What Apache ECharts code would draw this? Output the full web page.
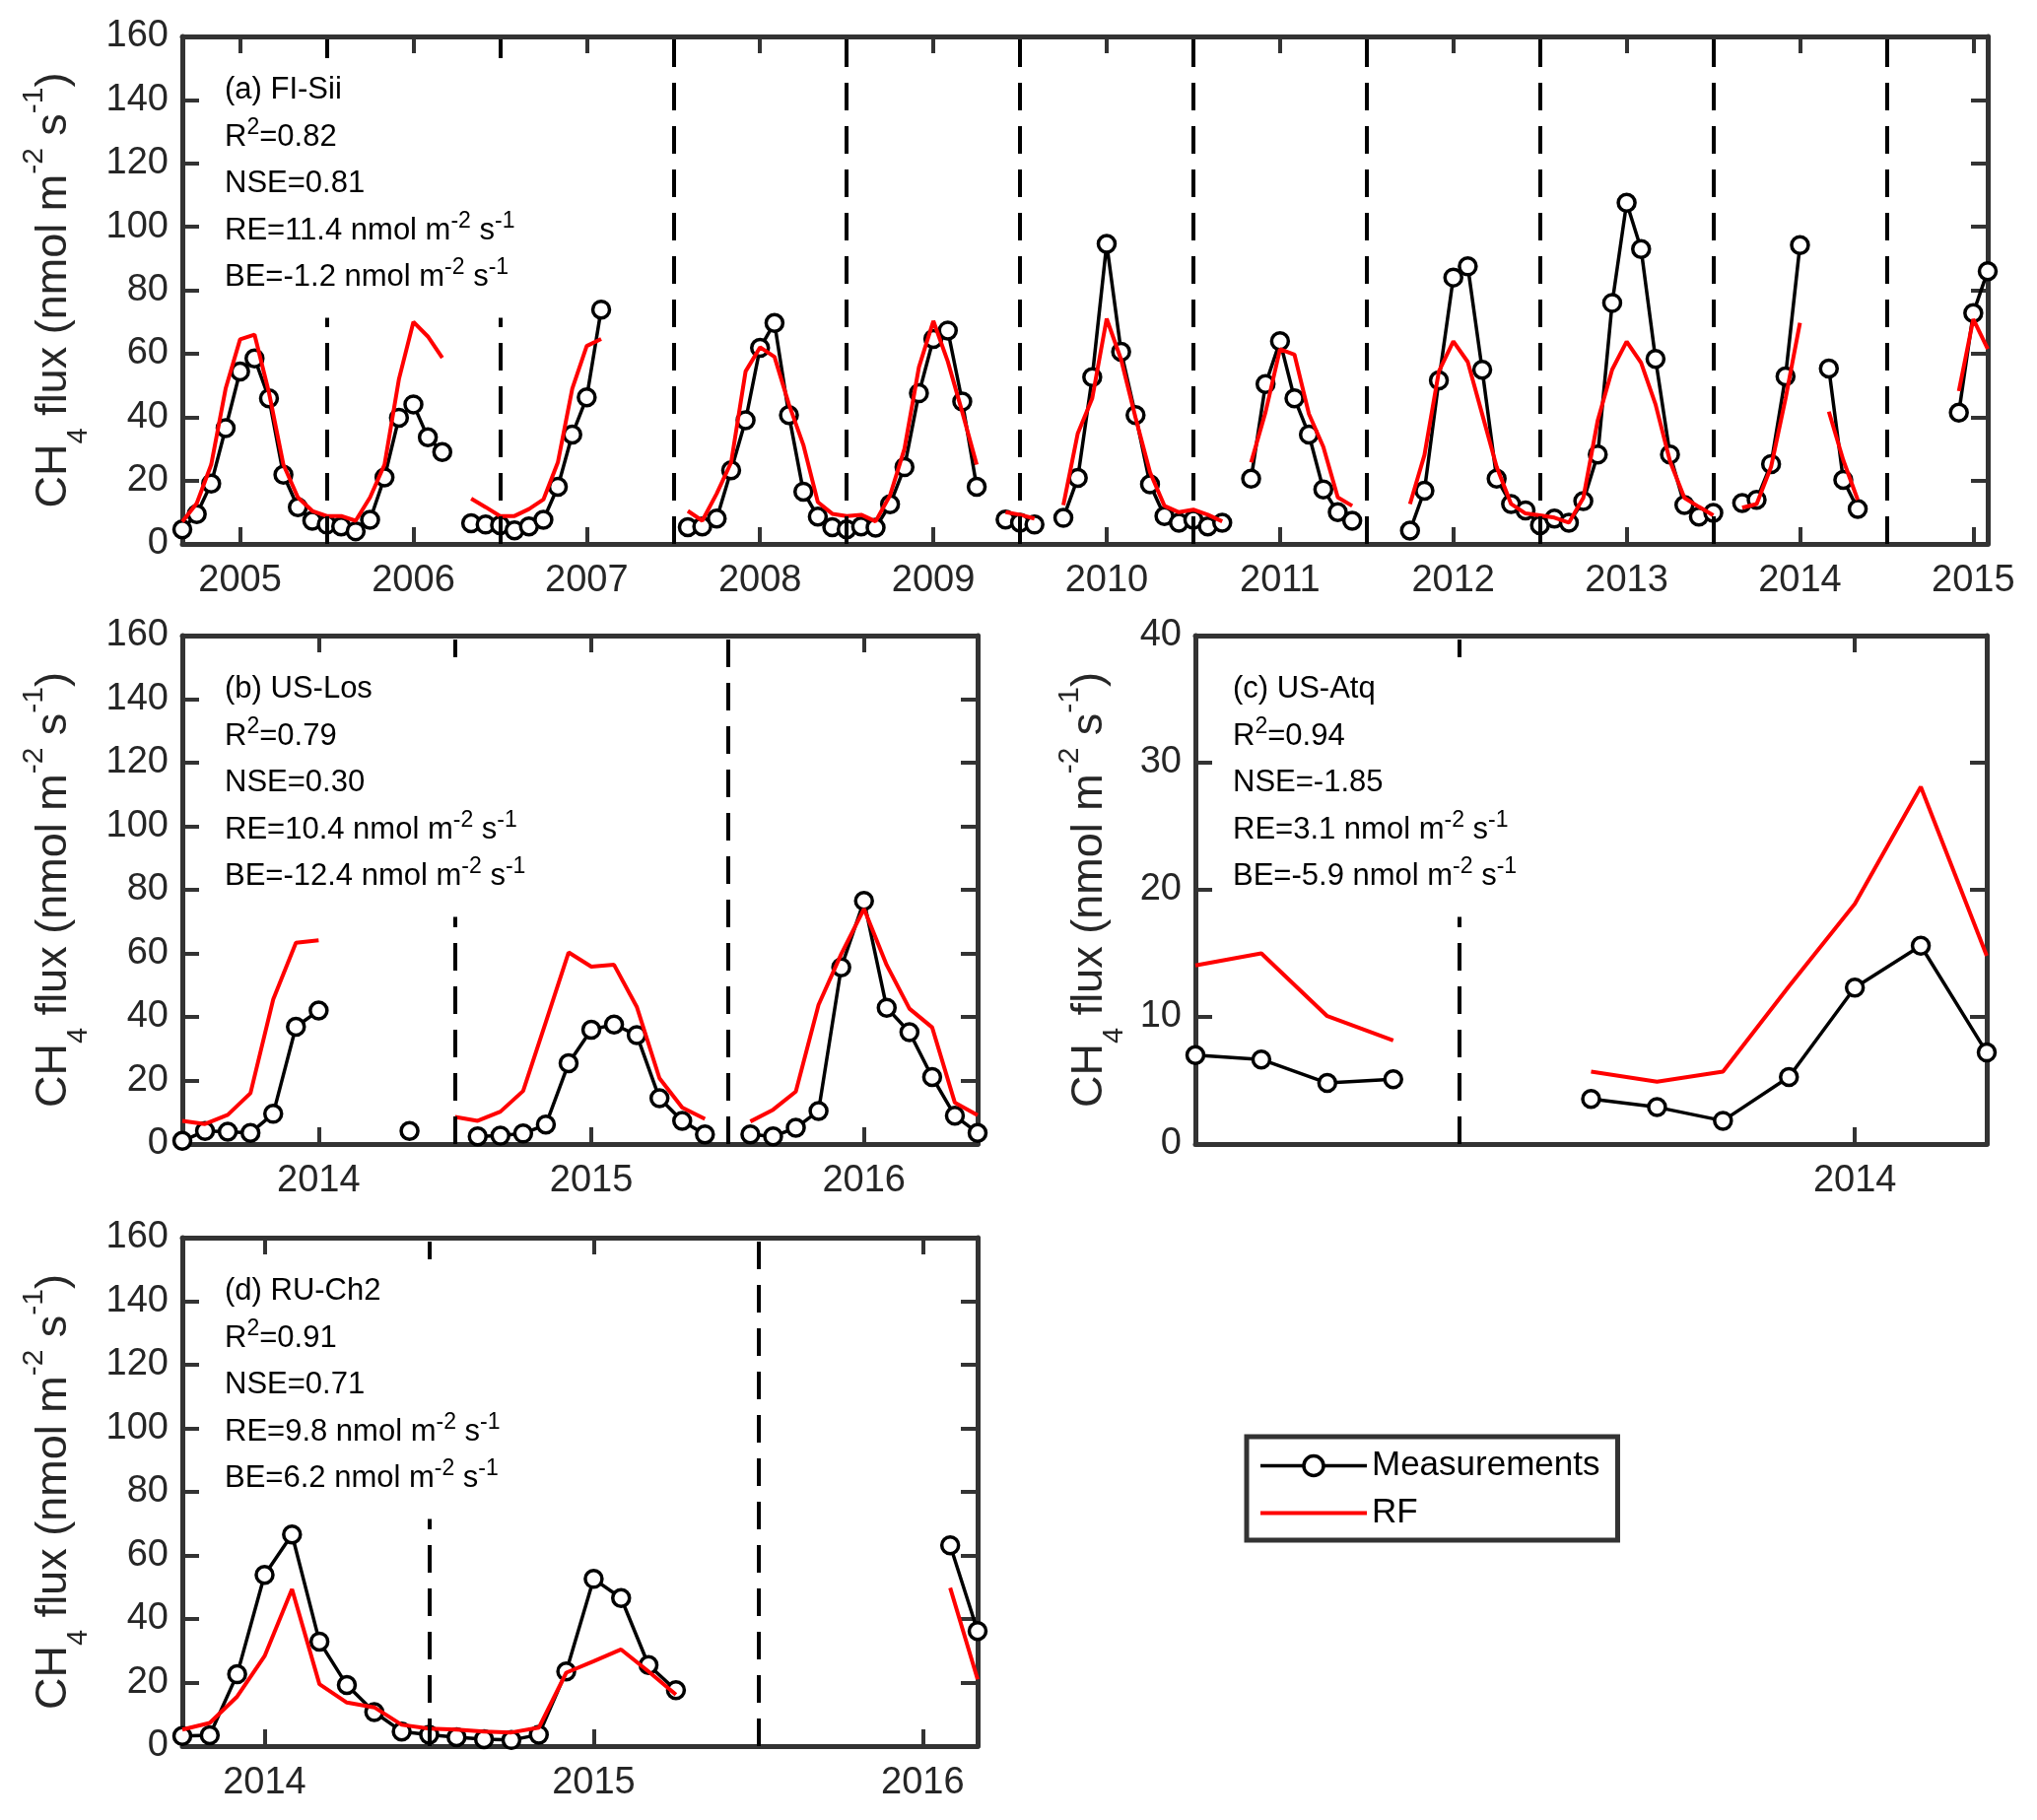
<!DOCTYPE html>
<html>
<head>
<meta charset="utf-8">
<script src="https://cdn.jsdelivr.net/npm/echarts@6/dist/echarts.min.js"></script>
<style>html,body{margin:0;padding:0;background:#fff}#c{width:2067px;height:1847px}</style>
</head>
<body>
<div id="c"></div>
<script>
// ---------------- DATA (monthly values, null = no data) ----------------
// (a) FI-Sii, first month 2004-09
const startA = [2004, 9];
const measA = [
  4.6, 9.4, 19, 36.5,                                              // 2004 Sep-Dec
  54.4, 58.5, 45.9, 21.8, 11.6, 7.3, 6.1, 5.5, 4.0, 7.6, 21, 39.8, // 2005
  44, 33.6, 29, null, 6.5, 6.1, 5.9, 4.3, 5.5, 7.6, 18, 34.5,      // 2006
  46.2, 73.9, null, null, null, null, null, 5.3, 5.5, 8, 23.2, 39, // 2007
  61.8, 69.7, 40.6, 16.5, 8.6, 5.3, 4.6, 5.5, 5.1, 12.5, 24.2, 47.5, // 2008
  64.6, 67.3, 44.9, 18, null, 7.7, 6.7, 6.1, null, 8.2, 20.8, 52.6, // 2009
  94.6, 60.6, 40.6, 18.8, 8.8, 6.7, 7.6, 5.5, 6.7, null, 20.6, 50.4, // 2010
  63.9, 45.9, 34.5, 17.2, 10, 7.3, null, null, null, 4.2, 16.8, 51.6, // 2011
  84, 87.5, 54.9, 20.6, 12.6, 10.6, 5.9, 8, 6.7, 13.5, 28.2, 76,   // 2012
  107.6, 93, 58.3, 28.2, 12.3, 8.6, 9.8, null, 12.9, 13.9, 25.2, 52.8, // 2013
  94.2, null, 55.3, 20.2, 11, null, null, null, null, null, null, 41.4, // 2014
  72.8, 86                                                         // 2015 Jan-Feb
];
const rfA = [
  7, 12.8, 25, 49,
  64.5, 66, 47.7, 25, 14.7, 10.4, 8.8, 8.8, 7.3, 14.7, 25, 52,
  70, 65.4, 58.7, null, 14.3, 11.6, 8.8, 8.8, 11, 14, 25.7, 49,
  62.4, 64.6, null, null, null, null, null, 10.4, 7.3, 15.9, 25.7, 54.4,
  62, 59, 44, 31.2, 13.2, 9.5, 8.8, 9.2, 7.1, 15.3, 30, 55.7,
  70.3, 57.5, 41.6, 25, null, 10, 9.2, 8, null, 12.2, 34.9, 45.9,
  71, 58.1, 39.8, 22.6, 12, 10, 10.8, 9.2, 7.1, null, 25.7, 41.6,
  61.4, 59.7, 41, 30.6, 14.7, 12, null, null, null, 12.6, 28, 54.4,
  63.9, 57.4, 40.9, 24.3, 12.6, 9.6, 9, 8.3, 6.7, 14.5, 39, 55,
  63.8, 57.1, 44, 26.1, 14.5, 11.7, 9, null, 11.4, 12.6, 24.3, 45.8,
  69.7, null, 41.7, 26.4, 13.9, null, null, null, null, null, null, 48.2,
  70.9, 61.5
];
const yearsA = [2005, 2006, 2007, 2008, 2009, 2010, 2011, 2012, 2013, 2014, 2015];
const dashA = [2005.5, 2006.5, 2007.5, 2008.5, 2009.5, 2010.5, 2011.5, 2012.5, 2013.5, 2014.5];

// (b) US-Los, first month 2013-07
const startB = [2013, 7];
const measB = [
  1.0, 4.1, 3.9, 3.5, 9.5, 36.9,                                   // 2013 Jul-Dec
  42, null, null, null, 4.1, null, null, 2.4, 2.6, 3.3, 6.1, 25.4, // 2014
  36, 37.6, 34.3, 14.4, 7.3, 3.0, null, 3, 2.4, 5.1, 10.4, 55.6,   // 2015
  76.5, 42.9, 35.2, 21.1, 8.9, 3.5                                 // 2016 Jan-Jun
];
const rfB = [
  7.3, 6.3, 9.2, 16, 45.5, 63.3,
  64.1, null, null, null, null, null, 8.5, 7.3, 10.2, 16.7, 38.4, 60.3,
  55.8, 56.4, 43.2, 20.7, 11.5, 7.9, null, 7.1, 10.8, 16.5, 43.8, 59.8,
  74, 56.3, 42.6, 36.7, 13, 9.1
];
const yearsB = [2014, 2015, 2016];
const dashB = [2014.5, 2015.5];

// (c) US-Atq, first month 2013-03
const startC = [2013, 3];
const measC = [7.0, 6.65, 4.8, 5.1, null, null, 3.55, 2.9, 1.83, 5.27, 12.3, 15.6, 7.2];
const rfC   = [14.05, 15.0, 10.06, 8.14, null, null, 5.7, 4.9, 5.7, 12.4, 18.9, 28.1, 14.8];
const yearsC = [2014];
const dashC = [2013.5];

// (d) RU-Ch2, first month 2013-10
const startD = [2013, 10];
const measD = [
  3.2, 3.4, 22.6,                                                  // 2013 Oct-Dec
  53.9, 66.6, 32.9, 19.2, 10.7, 4.6, 3.6, 2.8, 2.2, 1.9, 3.6, 23.5, // 2014
  52.6, 46.6, 25.5, 17.6, null, null, null, null, null, null, null, null, // 2015
  null, 63.2, 36.2                                                 // 2016 Jan-Mar
];
const rfD = [
  5.2, 7.3, 15.6,
  28.3, 49.4, 19.5, 13.7, 12.2, 6.7, 5.5, 5.2, 4.6, 4.3, 5.8, 23.1,
  26.7, 30.4, 23.5, 16.2, null, null, null, null, null, null, null, null,
  null, 49.8, 21
];
const yearsD = [2014, 2015, 2016];
const dashD = [2014.5, 2015.5];

const yTicksFlux = [0, 20, 40, 60, 80, 100, 120, 140, 160];
const yTicksAtq = [0, 10, 20, 30, 40];

const notesA = ['(a) FI-Sii', 'R{sup|2}=0.82', 'NSE=0.81', 'RE=11.4 nmol m{sup|-2} s{sup|-1}', 'BE=-1.2 nmol m{sup|-2} s{sup|-1}'];
const notesB = ['(b) US-Los', 'R{sup|2}=0.79', 'NSE=0.30', 'RE=10.4 nmol m{sup|-2} s{sup|-1}', 'BE=-12.4 nmol m{sup|-2} s{sup|-1}'];
const notesC = ['(c) US-Atq', 'R{sup|2}=0.94', 'NSE=-1.85', 'RE=3.1 nmol m{sup|-2} s{sup|-1}', 'BE=-5.9 nmol m{sup|-2} s{sup|-1}'];
const notesD = ['(d) RU-Ch2', 'R{sup|2}=0.91', 'NSE=0.71', 'RE=9.8 nmol m{sup|-2} s{sup|-1}', 'BE=6.2 nmol m{sup|-2} s{sup|-1}'];

// ---------------- CHART ----------------
const FONT = "'Liberation Sans', Arial, sans-serif";
const AX = '#333333';
const LBL = '#262626';

const grids = [
  {left: 185, top: 37, width: 1832, height: 515},
  {left: 185, top: 645, width: 807, height: 516},
  {left: 1213, top: 645, width: 803, height: 516},
  {left: 185, top: 1256, width: 807, height: 516}
];

function toXY(start, vals) {
  return vals.map((v, i) => [start[0] + (start[1] - 1 + i) / 12, v == null ? '-' : v]);
}
function firstX(start) { return start[0] + (start[1] - 1) / 12; }
function lastX(start, vals) { return start[0] + (start[1] - 1 + vals.length - 1) / 12; }

function xAx(gi, min, max, years, pos) {
  return {
    type: 'value', gridIndex: gi, min: min, max: max, position: pos,
    axisLine: {show: true, onZero: false, lineStyle: {color: AX, width: 5}},
    axisTick: {show: true, inside: true, length: 17, lineStyle: {color: AX, width: 4}, customValues: years},
    axisLabel: {show: pos === 'bottom', customValues: years, fontSize: 38, fontFamily: FONT, color: LBL, margin: 19,
                formatter: v => String(Math.round(v))},
    splitLine: {show: false}
  };
}
const nameRich = {
  t: {fontSize: 45, fontFamily: FONT, color: LBL, lineHeight: 54},
  sub: {fontSize: 29, fontFamily: FONT, color: LBL, lineHeight: 54, padding: [50, 0, 0, 0]},
  sup: {fontSize: 30, fontFamily: FONT, color: LBL, lineHeight: 54, padding: [0, 0, 40, 0]}
};
const yName = '{t|CH}{sub|4}{t| flux (nmol m}{sup|-2}{t| s}{sup|-1}{t|)}';
function yAx(gi, ticks, pos, gap) {
  const o = {
    type: 'value', gridIndex: gi, min: ticks[0], max: ticks[ticks.length - 1],
    interval: ticks[1] - ticks[0], position: pos,
    axisLine: {show: true, onZero: false, lineStyle: {color: AX, width: 5}},
    axisTick: {show: true, inside: true, length: 17, lineStyle: {color: AX, width: 4}},
    axisLabel: {show: pos === 'left', fontSize: 38, fontFamily: FONT, color: LBL, margin: 14},
    splitLine: {show: false}
  };
  if (pos === 'left') {
    o.name = yName;
    o.nameLocation = 'middle';
    o.nameRotate = 90;
    o.nameGap = gap;
    o.nameTextStyle = {fontSize: 45, fontFamily: FONT, color: LBL, lineHeight: 54, rich: nameRich};
  }
  return o;
}

function panelSeries(gi, start, meas, rf, dashes) {
  return [{
    type: 'line', name: 'Measurements', xAxisIndex: gi, yAxisIndex: gi,
    data: toXY(start, meas), connectNulls: false, clip: false,
    symbol: 'circle', symbolSize: 17, showSymbol: true,
    lineStyle: {color: '#000', width: 3.5},
    itemStyle: {color: '#fff', borderColor: '#000', borderWidth: 3.5},
    emphasis: {disabled: true}, z: 2, animation: false,
    markLine: {
      silent: true, symbol: ['none', 'none'], label: {show: false},
      lineStyle: {color: '#000', width: 4, type: [28, 16]},
      emphasis: {disabled: true}, animation: false,
      data: dashes.map(v => ({xAxis: v}))
    }
  }, {
    type: 'line', name: 'RF', xAxisIndex: gi, yAxisIndex: gi,
    data: toXY(start, rf), connectNulls: false, clip: false,
    symbol: 'none', showSymbol: false,
    lineStyle: {color: '#ff0000', width: 4},
    itemStyle: {color: '#ff0000'},
    emphasis: {disabled: true}, z: 3, animation: false
  }];
}

function note(gi, dx, lines) {
  const g = grids[gi];
  return {
    type: 'text', x: g.left + dx, y: g.top + 22, z: 100, silent: true,
    style: {
      text: lines.join('\n'), fontSize: 31, fontFamily: FONT, fill: '#000',
      lineHeight: 47.5, backgroundColor: '#fff', padding: [9, 12, 17, 12],
      align: 'left', verticalAlign: 'top',
      rich: {sup: {fontSize: 23, fontFamily: FONT, fill: '#000', lineHeight: 47.5, padding: [0, 0, 20, 0]}}
    }
  };
}

const panels = [
  [startA, measA, rfA, yearsA, dashA, yTicksFlux, 103, 31],
  [startB, measB, rfB, yearsB, dashB, yTicksFlux, 103, 31],
  [startC, measC, rfC, yearsC, dashC, yTicksAtq, 80, 26],
  [startD, measD, rfD, yearsD, dashD, yTicksFlux, 103, 31]
];

const xAxes = [], yAxes = [], series = [];
panels.forEach((p, gi) => {
  xAxes.push(xAx(gi, firstX(p[0]), lastX(p[0], p[1]), p[3], 'bottom'));
  yAxes.push(yAx(gi, p[5], 'left', p[6]));
});
panels.forEach((p, gi) => {
  xAxes.push(xAx(gi, firstX(p[0]), lastX(p[0], p[1]), p[3], 'top'));
  yAxes.push(yAx(gi, p[5], 'right', 0));
});
panels.forEach((p, gi) => {
  panelSeries(gi, p[0], p[1], p[2], p[4]).forEach(s => series.push(s));
});

const option = {
  backgroundColor: '#fff',
  animation: false,
  grid: grids,
  xAxis: xAxes,
  yAxis: yAxes,
  series: series,
  legend: {
    data: [
      {name: 'Measurements', lineStyle: {width: 3.5, color: '#000'},
       itemStyle: {color: '#fff', borderColor: '#000', borderWidth: 3.5}},
      {name: 'RF', lineStyle: {width: 4, color: '#ff0000'}, itemStyle: {opacity: 0}}
    ],
    orient: 'vertical', left: 1265, top: 1458,
    padding: [12, 18, 10, 12], itemGap: 13, itemWidth: 108, itemHeight: 25,
    backgroundColor: '#fff', borderColor: AX, borderWidth: 5, borderRadius: 0,
    textStyle: {fontSize: 35, fontFamily: FONT, color: '#000'}, selectedMode: false
  },
  graphic: [
    note(0, 31, notesA),
    note(1, 31, notesB),
    note(2, 26, notesC),
    note(3, 31, notesD)
  ]
};

const chart = echarts.init(document.getElementById('c'), null, {renderer: 'canvas'});
chart.setOption(option);
</script>
</body>
</html>
